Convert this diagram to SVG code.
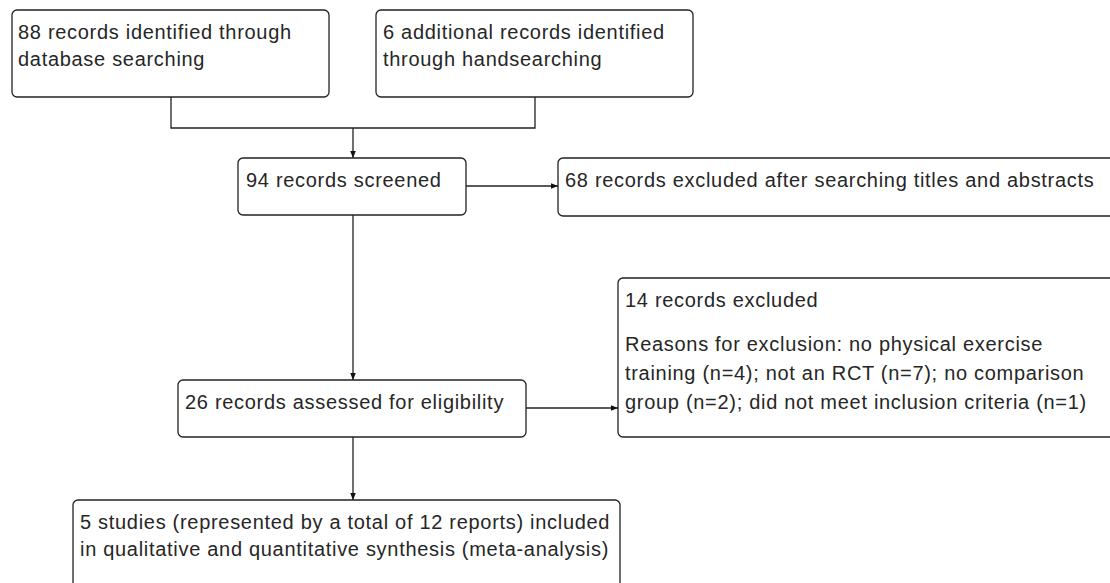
<svg xmlns="http://www.w3.org/2000/svg" width="1110" height="583" viewBox="0 0 1110 583">
  <style>
    .box { fill: #ffffff; stroke: #222222; stroke-width: 1.3; }
    .t { font-family: "Liberation Sans", Arial, sans-serif; font-size: 20px; letter-spacing: 0.7px; fill: #262626; }
    .c { fill: none; stroke: #222222; stroke-width: 1.3; }
  </style>
  <defs>
    <marker id="arr" markerUnits="userSpaceOnUse" viewBox="0 0 10 10" refX="10" refY="5" markerWidth="9" markerHeight="7" orient="auto">
      <path d="M0,1 L10,5 L0,9 Z" fill="#111111"/>
    </marker>
  </defs>
  <rect width="1110" height="583" fill="#ffffff"/>

  <g id="connectors">
    <path class="c" d="M171,97 V128 H535 V97"/>
    <path class="c" d="M353,128 V158" marker-end="url(#arr)"/>
    <path class="c" d="M466,186 H558" marker-end="url(#arr)"/>
    <path class="c" d="M353,215 V380" marker-end="url(#arr)"/>
    <path class="c" d="M526,408 H618" marker-end="url(#arr)"/>
    <path class="c" d="M353,437 V500" marker-end="url(#arr)"/>
  </g>

  <g id="n-database">
    <rect class="box" x="12" y="10" width="317" height="87" rx="5"/>
    <text class="t" x="18" y="39">88 records identified through</text>
    <text class="t" x="18" y="66">database searching</text>
  </g>

  <g id="n-handsearch">
    <rect class="box" x="376" y="10" width="317" height="87" rx="5"/>
    <text class="t" x="383" y="39">6 additional records identified</text>
    <text class="t" x="383" y="66">through handsearching</text>
  </g>

  <g id="n-screened">
    <rect class="box" x="238" y="158" width="228" height="57" rx="5"/>
    <text class="t" x="246" y="186.5">94 records screened</text>
  </g>

  <g id="n-excluded1">
    <rect class="box" x="558" y="158" width="570" height="58" rx="5"/>
    <text class="t" x="565" y="186.5">68 records excluded after searching titles and abstracts</text>
  </g>

  <g id="n-eligibility">
    <rect class="box" x="178" y="380" width="348" height="57" rx="5"/>
    <text class="t" x="185" y="408.5">26 records assessed for eligibility</text>
  </g>

  <g id="n-excluded2">
    <rect class="box" x="618" y="278" width="510" height="159" rx="5"/>
    <text class="t" x="625" y="307">14 records excluded</text>
    <text class="t" x="625" y="351">Reasons for exclusion: no physical exercise</text>
    <text class="t" x="625" y="380">training (n=4); not an RCT (n=7); no comparison</text>
    <text class="t" x="625" y="408.5">group (n=2); did not meet inclusion criteria (n=1)</text>
  </g>

  <g id="n-included">
    <rect class="box" x="73" y="500" width="547" height="100" rx="5"/>
    <text class="t" x="80" y="529">5 studies (represented by a total of 12 reports) included</text>
    <text class="t" x="80" y="556">in qualitative and quantitative synthesis (meta-analysis)</text>
  </g>
</svg>
